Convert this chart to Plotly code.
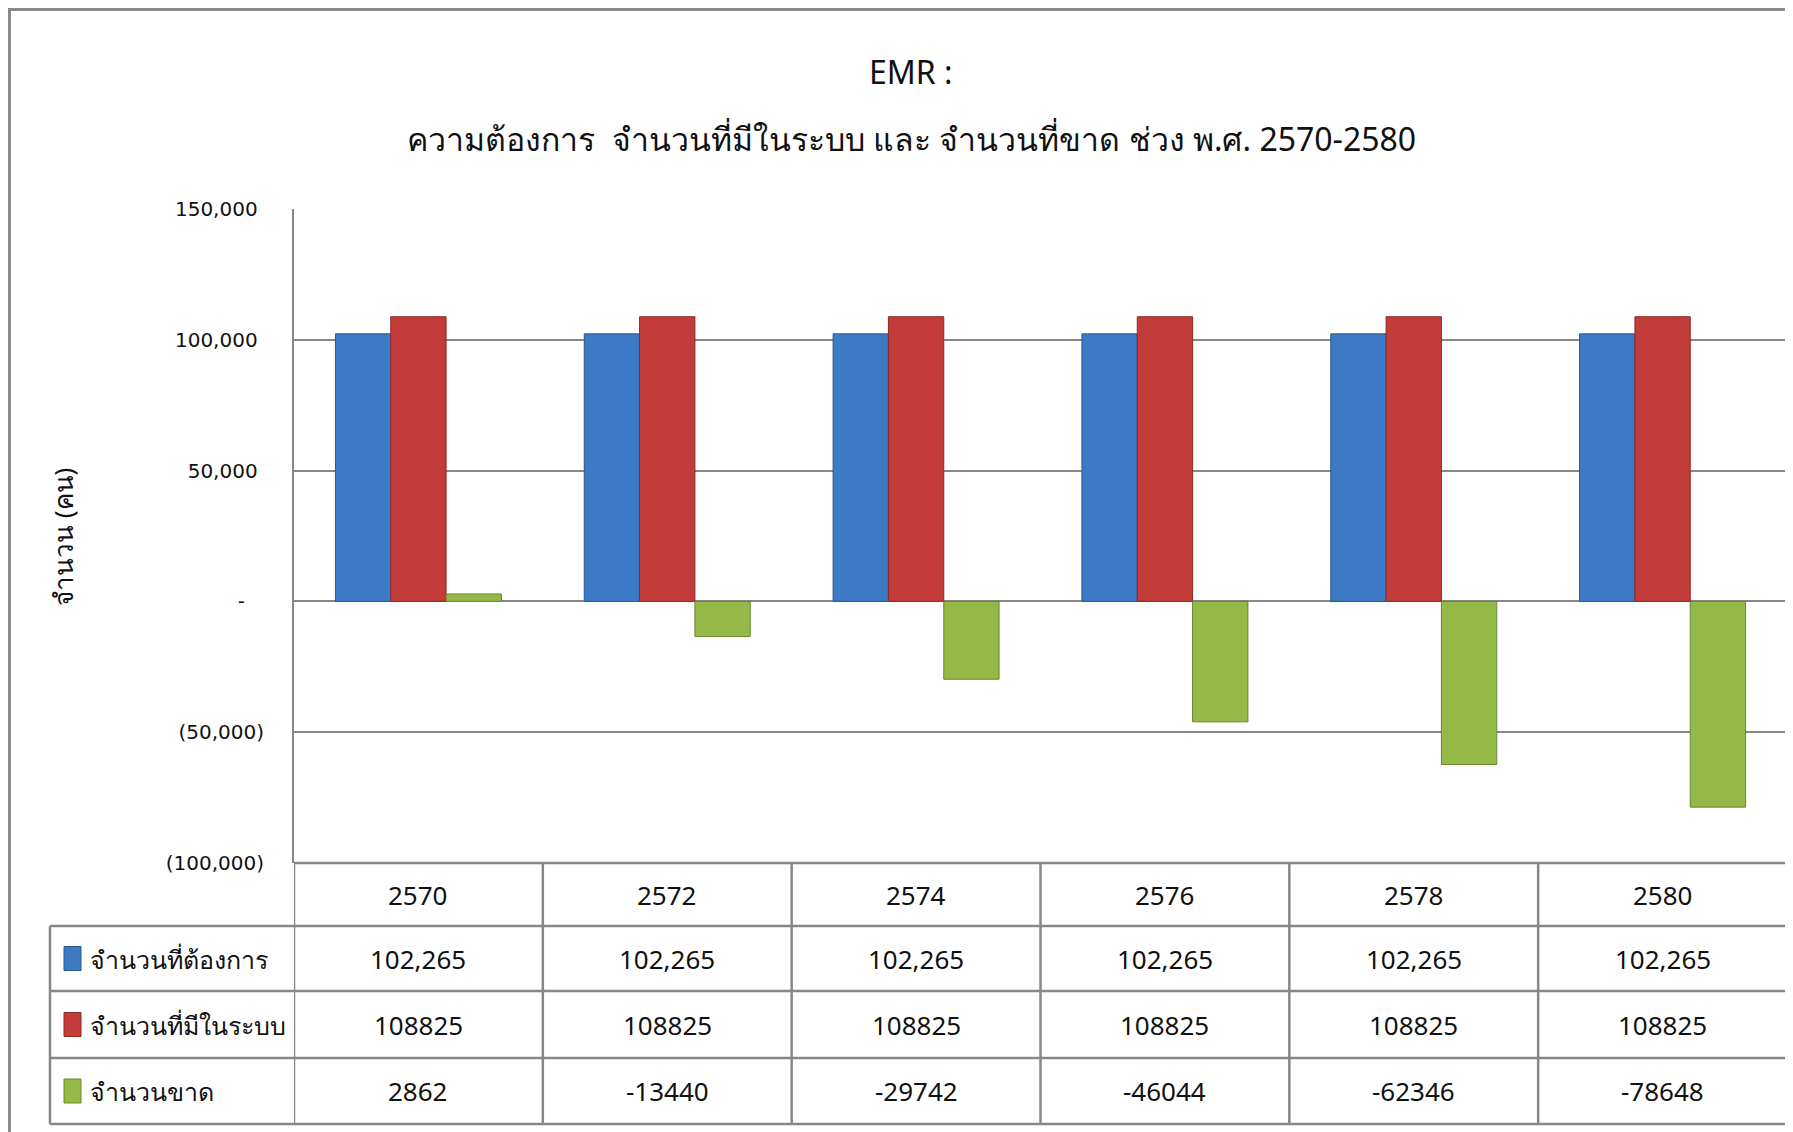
import plotly.graph_objects as go

# ---------------- data ----------------
years = ["2570", "2572", "2574", "2576", "2578", "2580"]
demand = [102265, 102265, 102265, 102265, 102265, 102265]
available = [108825, 108825, 108825, 108825, 108825, 108825]
shortage = [2862, -13440, -29742, -46044, -62346, -78648]

series_names = ["จำนวนที่ต้องการ", "จำนวนที่มีในระบบ", "จำนวนขาด"]
series_colors = ["#3D7AC6", "#C43C39", "#95B947"]
series_edges = ["#2A5690", "#8C2927", "#66872D"]

y_tickvals = [-100000, -50000, 0, 50000, 100000, 150000]
y_ticktext = ["(100,000)", "(50,000)", "-\u00a0\u00a0\u00a0", "50,000\u00a0",
              "100,000\u00a0", "150,000\u00a0"]

title_line1 = "EMR :"
title_line2 = "ความต้องการ  จำนวนที่มีในระบบ และ จำนวนที่ขาด ช่วง พ.ศ. 2570-2580"
y_title = "จำนวน (คน)"

# table display strings (as shown in the data table)
row_demand = ["{:,}".format(v) for v in demand]
row_available = [str(v) for v in available]
row_shortage = [str(v) for v in shortage]
table_rows = [row_demand, row_available, row_shortage]

# ---------------- layout helpers ----------------
OFF = 8  # default page body margin
W, H = 1793 - OFF, 1132 - OFF


def px(x):
    return (x - OFF) / W


def py(y):
    return 1 - (y - OFF) / H


GRID = "#878787"
TEXT_FONT = "Noto Sans, sans-serif"
TXT = "#111111"

fig = go.Figure()
for name, vals, col, edge in zip(series_names, [demand, available, shortage],
                                 series_colors, series_edges):
    fig.add_trace(go.Bar(
        x=years, y=vals, name=name,
        marker=dict(color=col, line=dict(color=edge, width=1)),
        showlegend=False,
    ))

shapes = []
annotations = []

# outer chart border (left & top visible)
shapes.append(dict(type="line", xref="paper", yref="paper",
                   x0=px(9), x1=1.01, y0=py(9.5), y1=py(9.5),
                   line=dict(color="#8A8A8A", width=3)))
shapes.append(dict(type="line", xref="paper", yref="paper",
                   x0=px(9.5), x1=px(9.5), y0=py(8), y1=-0.01,
                   line=dict(color="#8A8A8A", width=3)))

# table grid
row_lines = [863, 926, 991, 1058, 1124]
for i, yl in enumerate(row_lines):
    x0 = px(294) if i == 0 else px(50)
    shapes.append(dict(type="line", xref="paper", yref="paper",
                       x0=x0, x1=px(1787), y0=py(yl), y1=py(yl),
                       line=dict(color=GRID, width=2.5)))
for i in range(len(years) + 1):
    shapes.append(dict(type="line", xref="x", yref="paper",
                       x0=i - 0.5, x1=i - 0.5, y0=py(863), y1=py(1124),
                       line=dict(color=GRID, width=2.5)))
shapes.append(dict(type="line", xref="paper", yref="paper",
                   x0=px(50), x1=px(50), y0=py(926), y1=py(1124),
                   line=dict(color=GRID, width=2.5)))

# header years
for i, yr in enumerate(years):
    annotations.append(dict(x=i, xref="x", y=py(894.5), yref="paper",
                            text=yr, showarrow=False,
                            xanchor="center", yanchor="middle",
                            font=dict(family=TEXT_FONT, size=26, color=TXT)))

row_centers = [958.5, 1024.5, 1091]
for r, (vals, name, col, edge) in enumerate(zip(table_rows, series_names,
                                                series_colors, series_edges)):
    yc = row_centers[r]
    for i, v in enumerate(vals):
        annotations.append(dict(x=i, xref="x", y=py(yc), yref="paper",
                                text=v, showarrow=False,
                                xanchor="center", yanchor="middle",
                                font=dict(family=TEXT_FONT, size=26, color=TXT)))
    # legend key
    shapes.append(dict(type="rect", xref="paper", yref="paper",
                       x0=px(64), x1=px(81), y0=py(yc - 12), y1=py(yc + 12),
                       fillcolor=col, line=dict(color=edge, width=1)))
    annotations.append(dict(x=px(88), xref="paper", y=py(yc), yref="paper",
                            text=name, showarrow=False,
                            xanchor="left", yanchor="middle",
                            font=dict(family=TEXT_FONT, size=25, color=TXT)))

# titles
annotations.append(dict(x=px(911), y=py(71), xref="paper", yref="paper",
                        text=title_line1, showarrow=False,
                        xanchor="center", yanchor="middle",
                        font=dict(family=TEXT_FONT, size=32, color=TXT)))
annotations.append(dict(x=px(911), y=py(138), xref="paper", yref="paper",
                        text=title_line2, showarrow=False,
                        xanchor="center", yanchor="middle",
                        font=dict(family=TEXT_FONT, size=32, color=TXT)))
annotations.append(dict(x=px(63), y=py(537), xref="paper", yref="paper",
                        text=y_title, showarrow=False, textangle=-90,
                        xanchor="center", yanchor="middle",
                        font=dict(family=TEXT_FONT, size=26, color=TXT)))

fig.update_layout(
    width=W, height=H,
    margin=dict(l=0, r=0, t=0, b=0, pad=0, autoexpand=False),
    paper_bgcolor="white", plot_bgcolor="white",
    barmode="group", bargap=0.333, bargroupgap=0,
    xaxis=dict(domain=[px(294), px(1787)], range=[-0.5, 5.5],
               type="category", showticklabels=False, showgrid=False,
               zeroline=False, showline=False, ticks="", automargin=False),
    yaxis=dict(domain=[py(863), py(209)], range=[-100000, 150000],
               tickvals=y_tickvals, ticktext=y_ticktext,
               showgrid=True, gridcolor=GRID, gridwidth=2,
               zeroline=True, zerolinecolor=GRID, zerolinewidth=2,
               showline=True, linecolor=GRID, linewidth=2,
               ticks="", ticklabelstandoff=24, automargin=False,
               tickfont=dict(family="DejaVu Sans, sans-serif", size=20,
                             color=TXT)),
    shapes=shapes,
    annotations=annotations,
)

fig.write_html("out.html")
